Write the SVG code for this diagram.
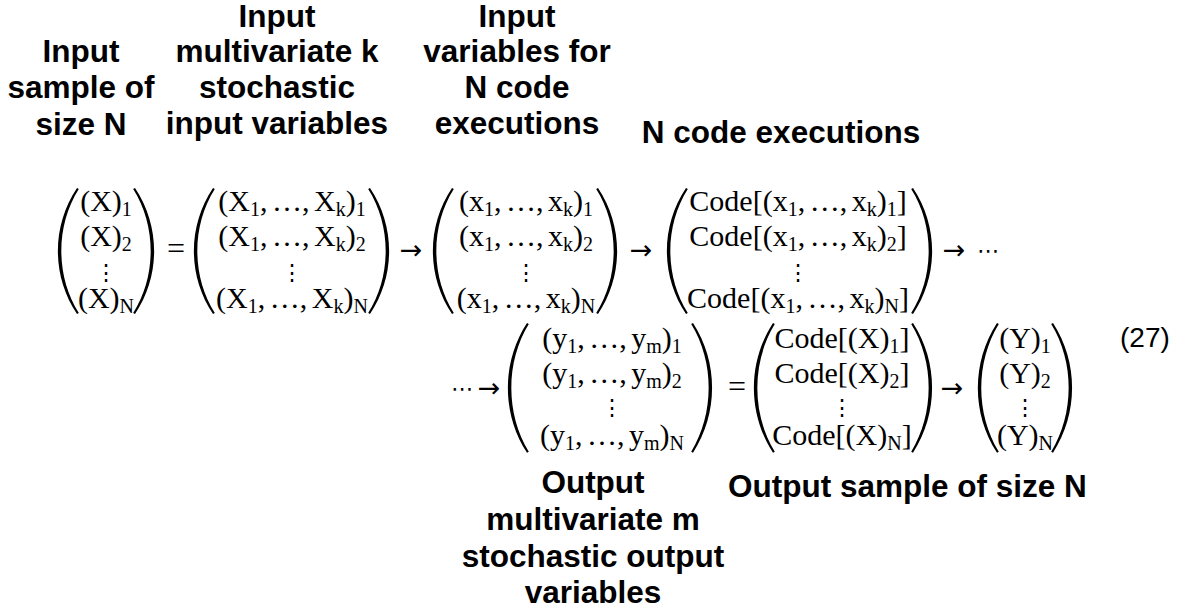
<svg xmlns="http://www.w3.org/2000/svg" xmlns:xlink="http://www.w3.org/1999/xlink" width="1182" height="615" viewBox="0 0 1182 615">
<style>
.lb{font-family:"Liberation Sans",Arial,sans-serif;font-weight:bold;font-size:31.5px;fill:#000;text-anchor:middle}
.m{font-family:"Liberation Serif","DejaVu Serif",serif;font-size:30px;fill:#000;text-anchor:middle;word-spacing:-3px}
.s{font-size:20px}
.vd{font-family:"DejaVu Serif",serif;font-size:22px;fill:#000;text-anchor:middle}
.op{font-family:"DejaVu Sans",sans-serif;font-size:27px;fill:#000;text-anchor:middle}
.el{font-family:"DejaVu Sans",sans-serif;font-size:22px;fill:#000;text-anchor:middle}
.eqs{font-family:"Liberation Serif",serif;font-size:32px;fill:#000;text-anchor:middle}
.eq{font-family:"Liberation Sans",Arial,sans-serif;font-size:28px;fill:#000}
.p{fill:#000}
</style>
<defs>
<path id="lp" class="p" d="M0,0 C-25.5,38 -25.5,88 0,126 L1.8,125 C-21.5,88 -21.5,38 1.8,1 Z"/>
</defs>
<rect width="1182" height="615" fill="#fff"/>

<g id="label-input-sample">
<text class="lb"><tspan x="81" y="62">Input</tspan><tspan x="81" y="98">sample of</tspan><tspan x="81" y="135">size N</tspan></text>
</g>
<g id="label-input-multivariate">
<text class="lb"><tspan x="277" y="27">Input</tspan><tspan x="277" y="62">multivariate k</tspan><tspan x="277" y="98">stochastic</tspan><tspan x="277" y="134">input variables</tspan></text>
</g>
<g id="label-input-variables">
<text class="lb"><tspan x="517" y="27">Input</tspan><tspan x="517" y="62">variables for</tspan><tspan x="517" y="98">N code</tspan><tspan x="517" y="134">executions</tspan></text>
</g>
<g id="label-code-executions">
<text class="lb" x="781" y="143">N code executions</text>
</g>
<g id="label-output-multivariate">
<text class="lb"><tspan x="593" y="493">Output</tspan><tspan x="593" y="530">multivariate m</tspan><tspan x="593" y="567">stochastic output</tspan><tspan x="593" y="603">variables</tspan></text>
</g>
<g id="label-output-sample">
<text class="lb" x="728" y="497" style="text-anchor:start">Output sample of size N</text>
</g>
<g id="eq-number">
<text class="eq" x="1120" y="347">(27)</text>
</g>

<g id="matrix-X">
<use xlink:href="#lp" x="77" y="188"/>
<use xlink:href="#lp" transform="translate(135,188) scale(-1,1)"/>
<text class="m" x="106" y="211">(X)<tspan class="s" dy="5">1</tspan></text>
<text class="m" x="106" y="246">(X)<tspan class="s" dy="5">2</tspan></text>
<text class="vd" x="106" y="280">⋮</text>
<text class="m" x="106" y="308">(X)<tspan class="s" dy="5">N</tspan></text>
</g>

<g id="matrix-Xk">
<use xlink:href="#lp" x="213" y="188"/>
<use xlink:href="#lp" transform="translate(370,188) scale(-1,1)"/>
<text class="m" x="292" y="211">(X<tspan class="s" dy="5">1</tspan><tspan dy="-5">, …, X</tspan><tspan class="s" dy="5">k</tspan><tspan dy="-5">)</tspan><tspan class="s" dy="5">1</tspan></text>
<text class="m" x="292" y="246">(X<tspan class="s" dy="5">1</tspan><tspan dy="-5">, …, X</tspan><tspan class="s" dy="5">k</tspan><tspan dy="-5">)</tspan><tspan class="s" dy="5">2</tspan></text>
<text class="vd" x="292" y="280">⋮</text>
<text class="m" x="292" y="308">(X<tspan class="s" dy="5">1</tspan><tspan dy="-5">, …, X</tspan><tspan class="s" dy="5">k</tspan><tspan dy="-5">)</tspan><tspan class="s" dy="5">N</tspan></text>
</g>

<g id="matrix-xk">
<use xlink:href="#lp" x="452" y="188"/>
<use xlink:href="#lp" transform="translate(598,188) scale(-1,1)"/>
<text class="m" x="526" y="211">(x<tspan class="s" dy="5">1</tspan><tspan dy="-5">, …, x</tspan><tspan class="s" dy="5">k</tspan><tspan dy="-5">)</tspan><tspan class="s" dy="5">1</tspan></text>
<text class="m" x="526" y="246">(x<tspan class="s" dy="5">1</tspan><tspan dy="-5">, …, x</tspan><tspan class="s" dy="5">k</tspan><tspan dy="-5">)</tspan><tspan class="s" dy="5">2</tspan></text>
<text class="vd" x="526" y="280">⋮</text>
<text class="m" x="526" y="308">(x<tspan class="s" dy="5">1</tspan><tspan dy="-5">, …, x</tspan><tspan class="s" dy="5">k</tspan><tspan dy="-5">)</tspan><tspan class="s" dy="5">N</tspan></text>
</g>

<g id="matrix-code-xk">
<use xlink:href="#lp" x="686" y="188"/>
<use xlink:href="#lp" transform="translate(913,188) scale(-1,1)"/>
<text class="m" x="798" y="211">Code[(x<tspan class="s" dy="5">1</tspan><tspan dy="-5">, …, x</tspan><tspan class="s" dy="5">k</tspan><tspan dy="-5">)</tspan><tspan class="s" dy="5">1</tspan><tspan dy="-5">]</tspan></text>
<text class="m" x="798" y="246">Code[(x<tspan class="s" dy="5">1</tspan><tspan dy="-5">, …, x</tspan><tspan class="s" dy="5">k</tspan><tspan dy="-5">)</tspan><tspan class="s" dy="5">2</tspan><tspan dy="-5">]</tspan></text>
<text class="vd" x="798" y="280">⋮</text>
<text class="m" x="798" y="308">Code[(x<tspan class="s" dy="5">1</tspan><tspan dy="-5">, …, x</tspan><tspan class="s" dy="5">k</tspan><tspan dy="-5">)</tspan><tspan class="s" dy="5">N</tspan><tspan dy="-5">]</tspan></text>
</g>

<g id="matrix-ym">
<use xlink:href="#lp" transform="translate(527,323) scale(1,1.03)"/>
<use xlink:href="#lp" transform="translate(693,323) scale(-1,1.03)"/>
<text class="m" x="612" y="348">(y<tspan class="s" dy="5">1</tspan><tspan dy="-5">, …, y</tspan><tspan class="s" dy="5">m</tspan><tspan dy="-5">)</tspan><tspan class="s" dy="5">1</tspan></text>
<text class="m" x="612" y="383">(y<tspan class="s" dy="5">1</tspan><tspan dy="-5">, …, y</tspan><tspan class="s" dy="5">m</tspan><tspan dy="-5">)</tspan><tspan class="s" dy="5">2</tspan></text>
<text class="vd" x="612" y="415">⋮</text>
<text class="m" x="612" y="445">(y<tspan class="s" dy="5">1</tspan><tspan dy="-5">, …, y</tspan><tspan class="s" dy="5">m</tspan><tspan dy="-5">)</tspan><tspan class="s" dy="5">N</tspan></text>
</g>

<g id="matrix-code-X">
<use xlink:href="#lp" transform="translate(773,323) scale(1,1.03)"/>
<use xlink:href="#lp" transform="translate(913,323) scale(-1,1.03)"/>
<text class="m" x="842" y="348">Code[(X)<tspan class="s" dy="5">1</tspan><tspan dy="-5">]</tspan></text>
<text class="m" x="842" y="383">Code[(X)<tspan class="s" dy="5">2</tspan><tspan dy="-5">]</tspan></text>
<text class="vd" x="842" y="415">⋮</text>
<text class="m" x="842" y="445">Code[(X)<tspan class="s" dy="5">N</tspan><tspan dy="-5">]</tspan></text>
</g>

<g id="matrix-Y">
<use xlink:href="#lp" transform="translate(997,323) scale(1,1.03)"/>
<use xlink:href="#lp" transform="translate(1053,323) scale(-1,1.03)"/>
<text class="m" x="1025" y="348">(Y)<tspan class="s" dy="5">1</tspan></text>
<text class="m" x="1025" y="383">(Y)<tspan class="s" dy="5">2</tspan></text>
<text class="vd" x="1025" y="415">⋮</text>
<text class="m" x="1025" y="445">(Y)<tspan class="s" dy="5">N</tspan></text>
</g>

<g id="connectors">
<text class="eqs" x="176" y="259">=</text>
<text class="op" x="411" y="259">→</text>
<text class="op" x="641" y="259">→</text>
<text class="op" x="954" y="259">→</text>
<text class="el" x="988" y="258">⋯</text>
<text class="el" x="462" y="396">⋯</text>
<text class="op" x="489" y="397">→</text>
<text class="eqs" x="737" y="397">=</text>
<text class="op" x="952" y="397">→</text>
</g>
</svg>
